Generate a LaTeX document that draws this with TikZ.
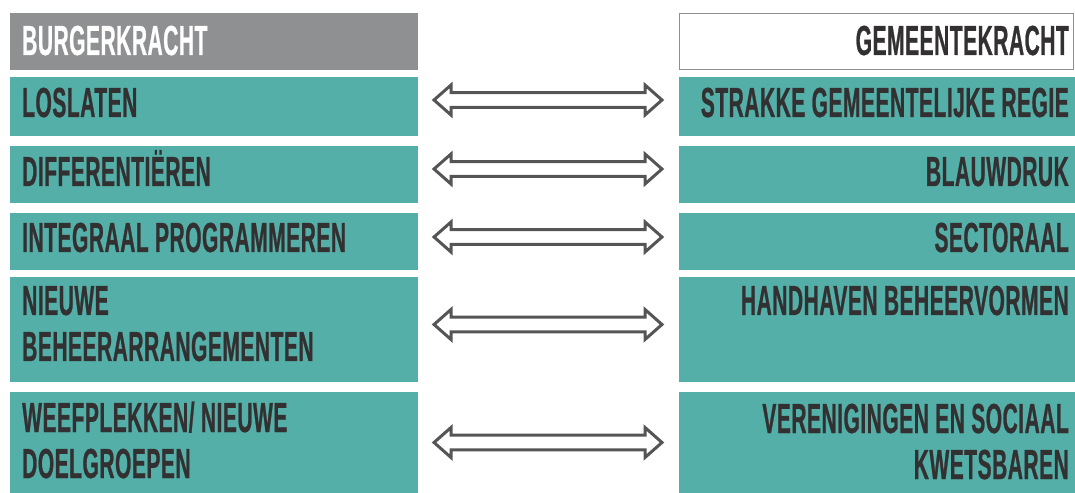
\documentclass[tikz,border=0pt]{standalone}
\usepackage{fontspec}
\usepackage{xcolor}
\usetikzlibrary{calc}
\newfontfamily\narrowfont{Liberation Sans}[FakeStretch=0.5,FakeBold=0.6,LetterSpace=1.2]
\definecolor{teal}{RGB}{84,175,169}
\definecolor{headgray}{RGB}{142,144,146}
\definecolor{ink}{RGB}{51,48,49}
\definecolor{arrowgray}{RGB}{85,85,85}
\tikzset{
  block/.style={inner sep=0pt, outer sep=0pt, fill=teal},
  lbl/.style={inner sep=0pt, text=ink, align=left,
    font=\narrowfont\bfseries\fontsize{42bp}{46bp}\selectfont},
  twoway/.style={draw=arrowgray, line width=3bp, line join=miter,
    to path={let \p1=(\tikztostart), \p2=(\tikztotarget) in
      (\x1,\y1) -- (\x1+17bp,\y1+15bp) -- (\x1+17bp,\y1+7.3bp) -- (\x2-17bp,\y1+7.3bp)
      -- (\x2-17bp,\y1+15bp) -- (\x2,\y1) -- (\x2-17bp,\y1-15bp) -- (\x2-17bp,\y1-7.3bp)
      -- (\x1+17bp,\y1-7.3bp) -- (\x1+17bp,\y1-15bp) -- cycle}},
}
\begin{document}
\begin{tikzpicture}[x=1bp,y=-1bp]
  \useasboundingbox (0,0) rectangle (1075,493);
%%
  % Node: headers
  \node[block, fill=headgray, minimum width=408bp, minimum height=57bp] (burgerHead) at (214,41.5) {};
  \node[block, fill=white, draw=headgray, line width=1.2bp, minimum width=394bp, minimum height=56bp] (gemeenteHead) at (876.5,41.5) {};
  \node[lbl, text=white, anchor=base west] (burgerText) at (22,55) {BURGERKRACHT};
  \node[lbl, anchor=base east] (gemeenteText) at (1069,55) {GEMEENTEKRACHT};
  % Node: left column
  \node[block, minimum width=408bp, minimum height=59bp]  (l1) at (214,106.5) {};
  \node[block, minimum width=408bp, minimum height=57bp]  (l2) at (214,174.5) {};
  \node[block, minimum width=408bp, minimum height=57bp]  (l3) at (214,241.5) {};
  \node[block, minimum width=408bp, minimum height=105bp] (l4) at (214,329.5) {};
  \node[block, minimum width=408bp, minimum height=110bp] (l5) at (214,447) {};
  % Node: right column
  \node[block, minimum width=396bp, minimum height=59bp]  (r1) at (877,106.5) {};
  \node[block, minimum width=396bp, minimum height=57bp]  (r2) at (877,174.5) {};
  \node[block, minimum width=396bp, minimum height=57bp]  (r3) at (877,241.5) {};
  \node[block, minimum width=396bp, minimum height=105bp] (r4) at (877,329.5) {};
  \node[block, minimum width=396bp, minimum height=110bp] (r5) at (877,447) {};
  % Texts (multi-line ones sit on their last baseline)
  \node[lbl, anchor=base west] (lt1) at (22,117) {LOSLATEN};
  \node[lbl, anchor=base west] (lt2) at (22,186) {DIFFERENTIËREN};
  \node[lbl, anchor=base west] (lt3) at (22,252) {INTEGRAAL PROGRAMMEREN};
  \node[lbl, anchor=base west] (lt4) at (22,361) {NIEUWE\\BEHEERARRANGEMENTEN};
  \node[lbl, anchor=base west] (lt5) at (22,478) {WEEFPLEKKEN/ NIEUWE\\DOELGROEPEN};
  \node[lbl, anchor=base east] (rt1) at (1069,117) {STRAKKE GEMEENTELIJKE REGIE};
  \node[lbl, anchor=base east] (rt2) at (1069,186) {BLAUWDRUK};
  \node[lbl, anchor=base east] (rt3) at (1069,252) {SECTORAAL};
  \node[lbl, anchor=base east] (rt4) at (1069,315) {HANDHAVEN BEHEERVORMEN};
  \node[lbl, anchor=base east, align=right] (rt5) at (1069,479) {VERENIGINGEN EN SOCIAAL\\KWETSBAREN};
  % Edge: left <-> right
  \foreach \i/\dy in {1/6.5,2/5.5,3/4.5,4/5,5/4.5}
    \draw[twoway] ([xshift=16bp,yshift=\dy bp]l\i.east) to ([xshift=-17bp,yshift=\dy bp]r\i.west);
%
\end{tikzpicture}
\end{document}
